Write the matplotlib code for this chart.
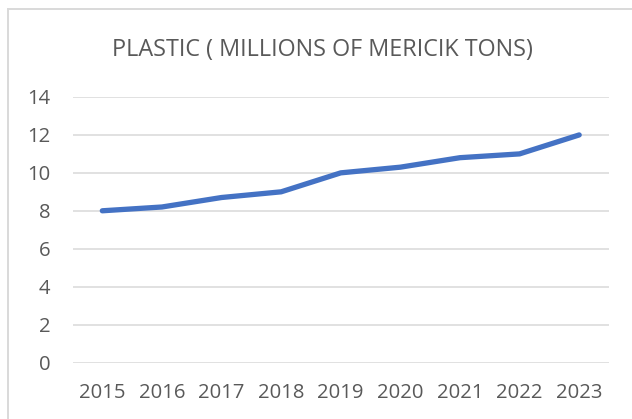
import matplotlib
matplotlib.use("Agg")
import matplotlib.pyplot as plt
from matplotlib.lines import Line2D

years = ["2015", "2016", "2017", "2018", "2019", "2020", "2021", "2022", "2023"]
plastic = [8.0, 8.2, 8.7, 9.0, 10.0, 10.3, 10.8, 11.0, 12.0]
yticks = [0, 2, 4, 6, 8, 10, 12, 14]
title = "PLASTIC ( MILLIONS OF MERICIK TONS)"

plt.rcParams['font.family'] = ['Open Sans', 'DejaVu Sans']

W, H = 632, 419
fig = plt.figure(figsize=(W / 100, H / 100), dpi=100)
fig.patch.set_facecolor("white")

# chart border (top and left visible)
fig.add_artist(Line2D([7.5 / W, 7.5 / W], [0, 1 - 9.5 / H], transform=fig.transFigure,
                      color="#D9D9D9", lw=1.4))
fig.add_artist(Line2D([7.5 / W, 1], [1 - 9.5 / H, 1 - 9.5 / H], transform=fig.transFigure,
                      color="#D9D9D9", lw=1.4))

ax = fig.add_axes([72.5 / W, 1 - 362.5 / H, (609 - 72.5) / W, (362.5 - 97) / H])
x = list(range(len(years)))
ax.plot(x, plastic, color="#4472C4", lw=3.8, solid_capstyle="round", solid_joinstyle="round",
        zorder=3)
ax.set_xlim(-0.5, len(years) - 0.5)
ax.set_ylim(0, 14)
ax.set_yticks(yticks)
ax.set_xticks(x)
ax.set_xticklabels(years)
ax.grid(axis="y", color="#D9D9D9", lw=1.1)
ax.set_axisbelow(True)
for s in ax.spines.values():
    s.set_visible(False)
ax.tick_params(axis="both", length=0, labelsize=14.6, labelcolor="#595959")
ax.tick_params(axis="y", pad=16)
ax.tick_params(axis="x", pad=15)

fig.text(322 / W, 1 - 50 / H, title, ha="center", va="center", fontsize=16.8,
         color="#595959")

fig.savefig("out.png", dpi=100, facecolor="white")
